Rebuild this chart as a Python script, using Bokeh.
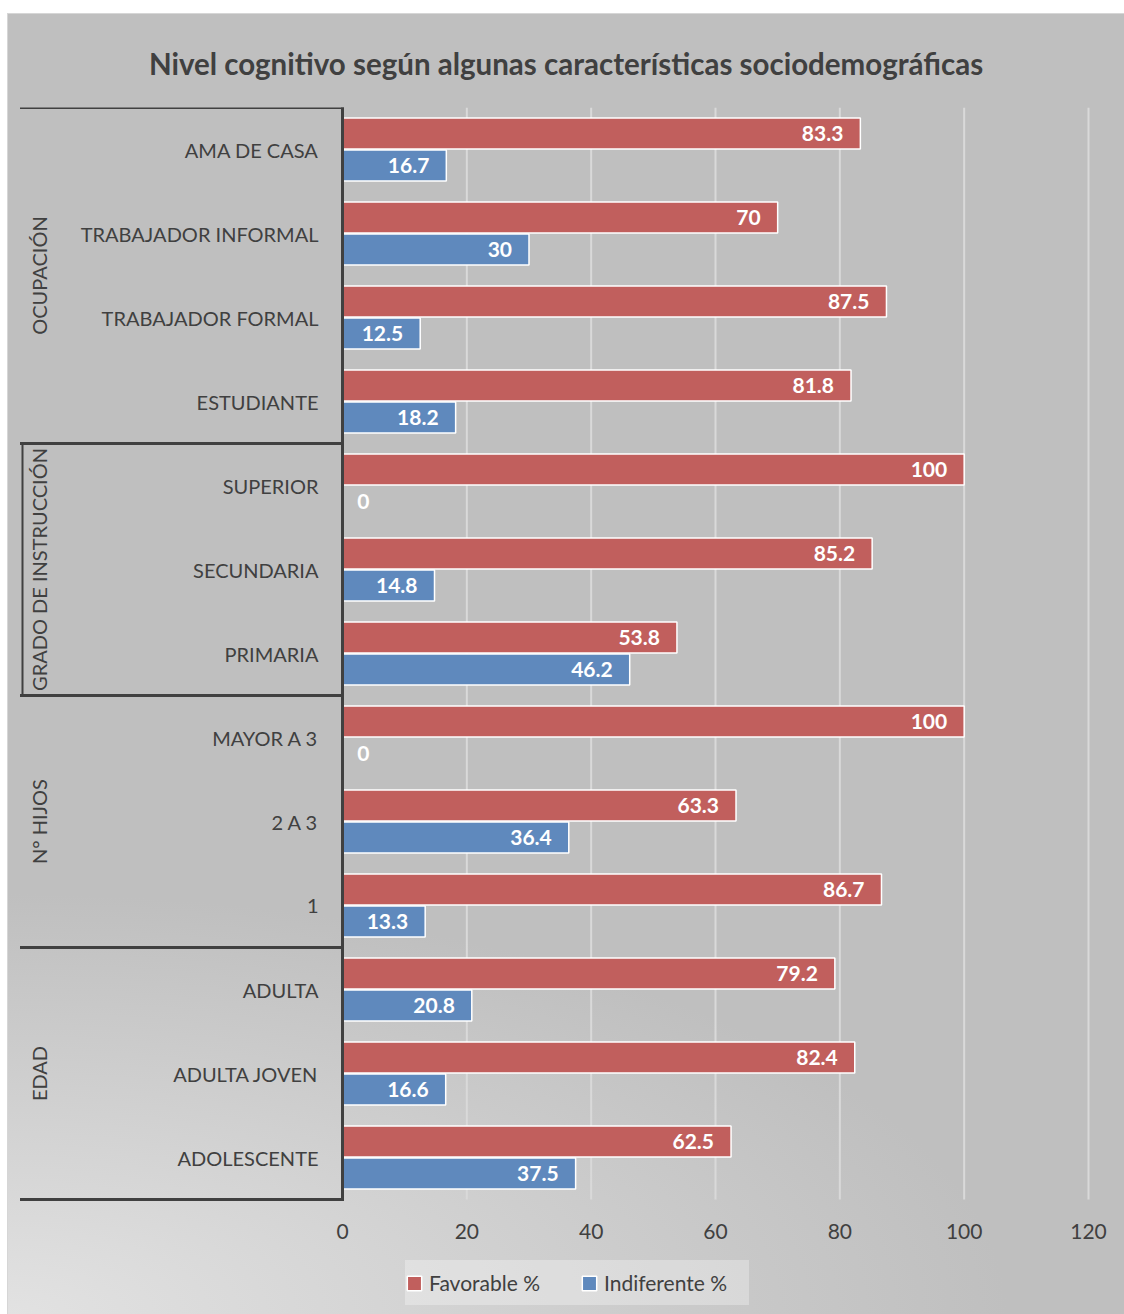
from math import pi
from bokeh.plotting import figure
from bokeh.models import ColumnDataSource, Range1d, FixedTicker, Legend, LegendItem
from bokeh.core.properties import value
from bokeh.embed import file_html
from bokeh.resources import INLINE

# ---------------- data ----------------
categories = ["AMA DE CASA", "TRABAJADOR INFORMAL", "TRABAJADOR FORMAL", "ESTUDIANTE",
              "SUPERIOR", "SECUNDARIA", "PRIMARIA",
              "MAYOR A 3", "2 A 3", "1",
              "ADULTA", "ADULTA JOVEN", "ADOLESCENTE"]
favorable = [83.3, 70, 87.5, 81.8, 100, 85.2, 53.8, 100, 63.3, 86.7, 79.2, 82.4, 62.5]
indiferente = [16.7, 30, 12.5, 18.2, 0, 14.8, 46.2, 0, 36.4, 13.3, 20.8, 16.6, 37.5]
groups = ["OCUPACIÓN", "GRADO DE INSTRUCCIÓN", "N° HIJOS", "EDAD"]
group_sizes = [4, 3, 3, 3]
x_ticks = [0, 20, 40, 60, 80, 100, 120]
series_names = ["Favorable %", "Indiferente %"]

# ---------------- style ----------------
RED = "#c15f5d"
BLUE = "#5f89bd"
DARK = "#404040"
FONT = "Lato"

W, H = 1117, 1301
TOP = 94                 # space above the plotting frame (title)
ZERO_PX = 335            # pixel position of x=0 inside figure
XMAX = x_ticks[-1]
SCALE = 746 / XMAX       # px per x unit
BAND = 84                # px per category
x_start = -ZERO_PX / SCALE
x_end = (W - ZERO_PX) / SCALE


def px(fig_x):
    return (fig_x - ZERO_PX) / SCALE


n = len(categories)
y_start = n - (H - TOP) / BAND
yc = [n - i - 0.5 for i in range(n)]
OFF = 0.19
BAR_H = 0.37


def fmt(v):
    return f"{v:g}"


src = ColumnDataSource(dict(
    cat=categories,
    y=yc,
    fav=favorable,
    ind=indiferente,
    y_fav=[y + OFF for y in yc],
    y_ind=[y - OFF for y in yc],
    fav_lbl=[fmt(v) for v in favorable],
    ind_lbl=[fmt(v) for v in indiferente],
    fav_off=[-17 if v > 0 else 27 for v in favorable],
    ind_off=[-17 if v > 0 else 27 for v in indiferente],
))

p = figure(width=W, height=H,
           x_range=Range1d(x_start, x_end), y_range=Range1d(y_start, n),
           y_axis_location=None,
           output_backend="svg", toolbar_location=None,
           min_border_left=0, min_border_right=0,
           min_border_top=TOP, min_border_bottom=0,
           background_fill_color=None, border_fill_color=None,
           outline_line_color=None,
           title="Nivel cognitivo según algunas características sociodemográficas")

p.styles = {
    "margin-left": "7px",
    "margin-top": "13px",
    "background": "radial-gradient(ellipse 1000px 420px at 0% 100%, #e2e2e2 0%, #bfbfbf 100%)",
    "box-shadow": "inset 1px 1px 0 #d6d6d6",
}

p.title.align = "center"
p.title.text_font = FONT
p.title.text_font_size = "29.5px"
p.title.text_font_style = "bold"
p.title.text_color = DARK
p.title.standoff = 54

# axis drawn at y = 0 (takes no panel space)
p.xaxis.fixed_location = 0
p.xaxis.ticker = FixedTicker(ticks=x_ticks)
p.xaxis.axis_line_color = None
p.xaxis.major_tick_line_color = None
p.xaxis.minor_tick_line_color = None
p.xaxis.major_label_standoff = 18
p.xaxis.major_label_text_font = FONT
p.xaxis.major_label_text_font_size = "21px"
p.xaxis.major_label_text_color = DARK

p.xgrid.visible = False
p.ygrid.visible = False

# vertical gridlines limited to the category area
p.segment(x0=x_ticks, x1=x_ticks, y0=[0] * len(x_ticks), y1=[n] * len(x_ticks),
          line_color="#d9d9d9", line_width=2)

# bars
r1 = p.hbar(y="y_fav", left=0, right="fav", height=BAR_H, source=src,
            fill_color=RED, line_color="white", line_width=1.5)
r2 = p.hbar(y="y_ind", left=0, right="ind", height=BAR_H, source=src,
            fill_color=BLUE, line_color="white", line_width=1.5)

# axis line and group separators
bounds = [n]
for s in group_sizes:
    bounds.append(bounds[-1] - s)
p.segment(x0=[px(14)] * len(bounds), x1=[0] * len(bounds), y0=bounds, y1=bounds,
          line_color=DARK, line_width=3, line_cap="square")
p.segment(x0=[0], x1=[0], y0=[0], y1=[n], line_color=DARK, line_width=3, line_cap="square")
# small mark next to the long group label
p.segment(x0=[px(15)], x1=[px(15)], y0=[bounds[2]], y1=[bounds[1]], line_color=DARK, line_width=2)

# value labels
common = dict(text_font=value(FONT), text_font_size="21px", text_font_style="bold",
              text_color="white", text_align="right", text_baseline="middle", source=src)
p.text(x="fav", y="y_fav", text="fav_lbl", x_offset="fav_off", **common)
p.text(x="ind", y="y_ind", text="ind_lbl", x_offset="ind_off", **common)

# category labels
p.text(x=0, y="y", text="cat", x_offset=-24, source=src,
       text_font=value(FONT), text_font_size="20px", text_color=DARK,
       text_align="right", text_baseline="middle")

# group labels
centers = [(bounds[i] + bounds[i + 1]) / 2 for i in range(len(groups))]
gsrc = ColumnDataSource(dict(g=groups, y=centers))
p.text(x=0, y="y", text="g", x_offset=-304, angle=pi / 2, source=gsrc,
       text_font=value(FONT), text_font_size="20px", text_color=DARK,
       text_align="center", text_baseline="middle")

legend = Legend(items=[LegendItem(label=series_names[0], renderers=[r1]),
                       LegendItem(label=series_names[1], renderers=[r2])],
                orientation="horizontal", location=(398, 9))
legend.label_text_font = FONT
legend.label_text_font_size = "21px"
legend.label_text_color = DARK
legend.glyph_width = 18
legend.glyph_height = 18
legend.label_standoff = 6
legend.label_width = 145
legend.label_height = 45
legend.spacing = 6
legend.padding = 12
legend.margin = 0
legend.background_fill_color = "white"
legend.background_fill_alpha = 0.3
legend.border_line_color = None
p.add_layout(legend)

open("out.html", "w").write(file_html(p, INLINE))
